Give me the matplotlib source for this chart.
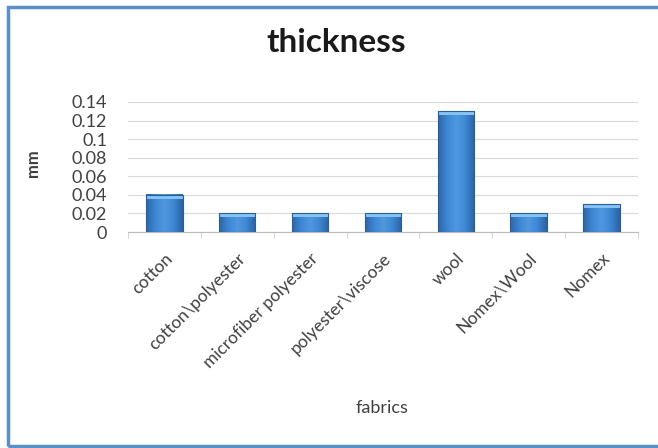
import numpy as np
import matplotlib
matplotlib.use("Agg")
from matplotlib import pyplot as plt
from matplotlib.colors import LinearSegmentedColormap
from matplotlib.patches import Rectangle

# thickness of each fabric sample, in mm
fabrics = ["cotton", "cotton\\polyester", "microfiber polyester",
           "polyester\\viscose", "wool", "Nomex\\Wool", "Nomex"]
thickness = [0.04, 0.02, 0.02, 0.02, 0.13, 0.02, 0.03]
yticks = [0, 0.02, 0.04, 0.06, 0.08, 0.1, 0.12, 0.14]
ytick_labels = ["0", "0.02", "0.04", "0.06", "0.08", "0.1", "0.12", "0.14"]

plt.rcParams["font.family"] = ["Lato", "DejaVu Sans"]
plt.rcParams["text.parse_math"] = False

fig = plt.figure(figsize=(6.58, 4.48), dpi=100)

# blue frame round the chart
fig.patches.append(Rectangle((8 / 658, 2 / 448), 660 / 658, 439 / 448,
                             transform=fig.transFigure, fill=False,
                             edgecolor="#5b8fc7", linewidth=2.5))

ax = fig.add_axes([128 / 658, 216 / 448, 510 / 658, 130 / 448])
ax.set_facecolor("none")

x = np.arange(len(fabrics))
width = 0.5
grad = np.linspace(0, 1, 256).reshape(1, -1)
bar_cmap = LinearSegmentedColormap.from_list(
    "bar", ["#2c66a8", "#3d86d2", "#4f98e0", "#3d86d2", "#2a62a3"])

bars = ax.bar(x, thickness, width=width, color="none", zorder=3)
for b, v in zip(bars, thickness):
    x0 = b.get_x()
    ax.imshow(grad, cmap=bar_cmap, aspect="auto", zorder=3,
              extent=[x0, x0 + width, 0, v], interpolation="bilinear")
    cap = 0.004
    ax.add_patch(Rectangle((x0, v - cap), width, cap, facecolor="#86c3f2",
                           edgecolor="none", zorder=4))
    ax.add_patch(Rectangle((x0, 0), width, v, fill=False,
                           edgecolor="#2a5e98", linewidth=0.8, zorder=5))

ax.set_xlim(-0.5, len(fabrics) - 0.5)
ax.set_ylim(0, 0.14)
ax.set_yticks(yticks)
ax.set_yticklabels(ytick_labels, fontsize=13, color="#404040")
ax.yaxis.grid(True, color="#d9d9d9", linewidth=0.8, zorder=0)
ax.set_axisbelow(True)

ax.set_xticks(x)
ax.set_xticklabels(fabrics, rotation=45, ha="right", rotation_mode="anchor",
                   fontsize=12.5, color="#404040")
ax.set_xticks(np.arange(len(fabrics) + 1) - 0.5, minor=True)
ax.tick_params(axis="x", which="major", length=0, pad=13)
ax.tick_params(axis="x", which="minor", length=4, color="#cccccc")
ax.tick_params(axis="y", length=0, pad=15)

for side in ["top", "right", "left"]:
    ax.spines[side].set_visible(False)
ax.spines["bottom"].set_color("#bbbbbb")

fig.text(336 / 658, 1 - 43 / 448, "thickness", ha="center", va="center",
         fontsize=24, fontweight="bold", color="#1a1a1a")
fig.text(33 / 658, 1 - 163 / 448, "mm", ha="center", va="center",
         rotation=90, fontsize=12, fontweight="bold", color="#404040")
fig.text(382 / 658, 1 - 408 / 448, "fabrics", ha="center", va="center",
         fontsize=13, color="#404040")

fig.savefig("out.png", dpi=100)
